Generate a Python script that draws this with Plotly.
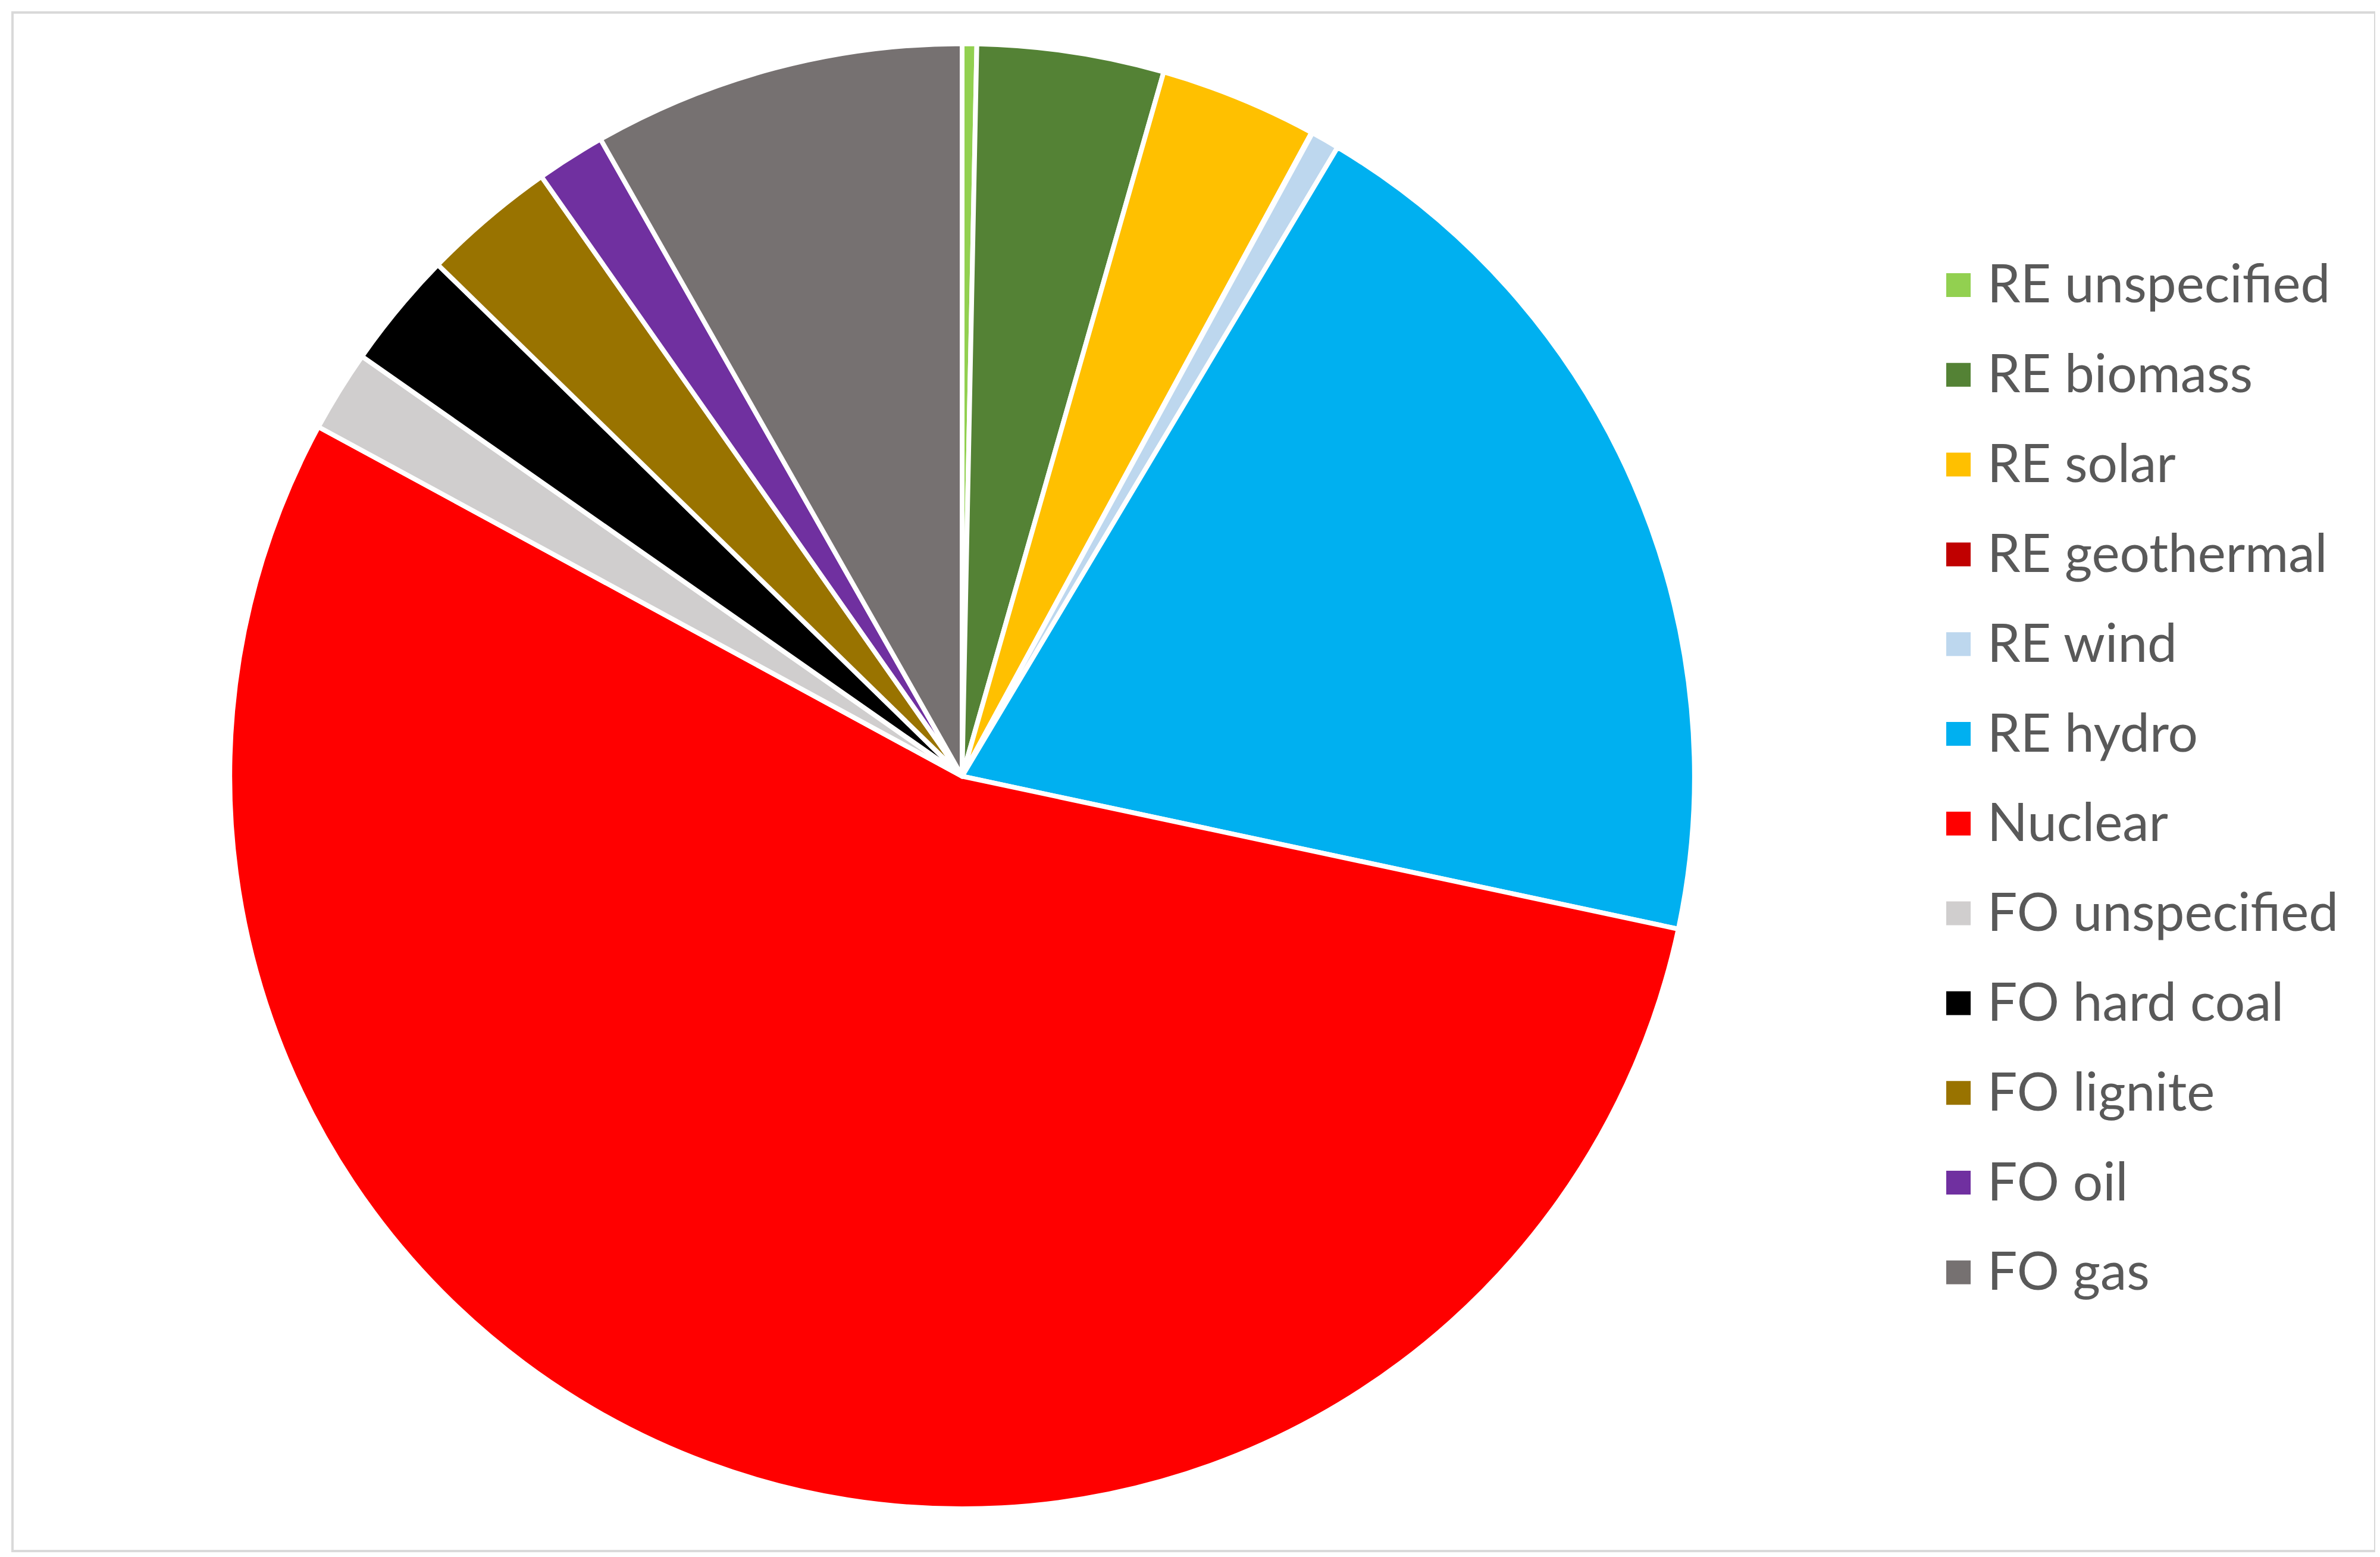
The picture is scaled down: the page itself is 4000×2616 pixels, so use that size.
import plotly.graph_objects as go

W, H = 4000, 2616

categories = ["RE unspecified", "RE biomass", "RE solar", "RE geothermal", "RE wind",
              "RE hydro", "Nuclear", "FO unspecified", "FO hard coal", "FO lignite",
              "FO oil", "FO gas"]
shares = [0.32, 4.12, 3.48, 0.02, 0.63, 19.78, 54.58, 1.80, 2.59, 2.96, 1.52, 8.22]
colors = ["#92D050", "#548235", "#FFC000", "#C00000", "#BDD7EE", "#00B0F0",
          "#FF0000", "#D0CECE", "#000000", "#997300", "#7030A0", "#767171"]

fig = go.Figure()
fig.add_trace(go.Pie(
    labels=categories,
    values=shares,
    sort=False,
    direction="clockwise",
    rotation=0,
    marker=dict(colors=colors, line=dict(color="#FFFFFF", width=8)),
    textinfo="none",
    showlegend=False,
    domain=dict(x=[0.0945, 0.710], y=[0.034, 0.975]),
))

# custom legend built from the category / colour lists
shapes = []
annotations = []
row0, step = 471, 150.8
for i, (lab, col) in enumerate(zip(categories, colors)):
    yc = row0 + step * i
    shapes.append(dict(type="rect", xref="paper", yref="paper",
                       x0=3263 / W, x1=3304 / W,
                       y0=1 - (yc + 20) / H, y1=1 - (yc - 20) / H,
                       fillcolor=col, line=dict(width=0)))
    annotations.append(dict(text=lab, xref="paper", yref="paper",
                            x=3330 / W, y=1 - (yc - 5) / H, xanchor="left", yanchor="middle",
                            showarrow=False,
                            font=dict(family="Lato", size=89, color="#595959")))

# light grey frame
shapes.append(dict(type="rect", xref="paper", yref="paper",
                   x0=13 / W, x1=3984 / W, y0=1 - 2598 / H, y1=1 - 13 / H,
                   line=dict(color="#D9D9D9", width=4), fillcolor="rgba(0,0,0,0)"))

fig.update_layout(
    width=W, height=H,
    margin=dict(l=0, r=0, t=0, b=0),
    paper_bgcolor="#FFFFFF",
    plot_bgcolor="#FFFFFF",
    shapes=shapes,
    annotations=annotations,
)

fig.write_html("out.html")
